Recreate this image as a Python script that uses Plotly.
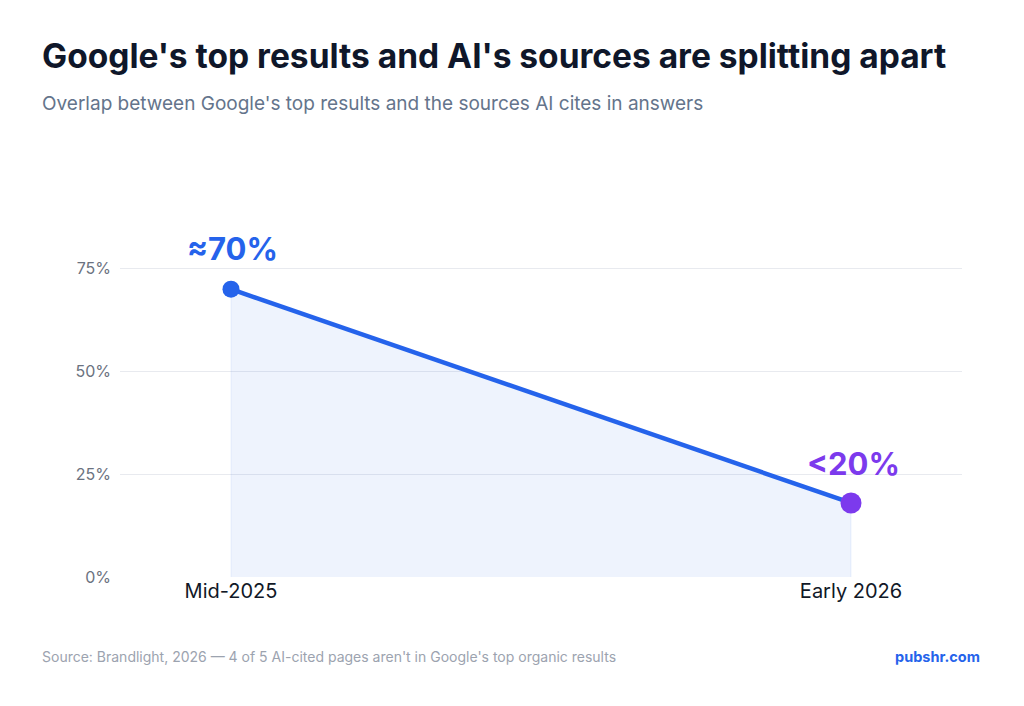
import plotly.graph_objects as go

periods = ["Mid-2025", "Early 2026"]
overlap = [70, 18]
labels = ["≈70%", "<20%"]
tick_vals = [0, 25, 50, 75]
tick_text = ["0%", "25%", "50%", "75%"]

BLUE = "#2563eb"
PURPLE = "#7c3aed"
xpos = [0, 1]

fig = go.Figure()
# shaded area
fig.add_trace(go.Scatter(
    x=[xpos[0], xpos[0], xpos[1], xpos[1]],
    y=[0, overlap[0], overlap[1], 0],
    fill="toself", fillcolor="rgba(37,99,235,0.08)",
    line=dict(color="rgba(37,99,235,0.08)", width=1),
    mode="lines", hoverinfo="skip", showlegend=False))
# line
fig.add_trace(go.Scatter(
    x=xpos, y=overlap, mode="lines",
    line=dict(color=BLUE, width=4.5), hoverinfo="skip", showlegend=False))
# markers
fig.add_trace(go.Scatter(
    x=xpos, y=overlap, mode="markers",
    marker=dict(color=[BLUE, PURPLE], size=[17, 21], opacity=1, line=dict(width=0)),
    hoverinfo="skip", showlegend=False))

for xv, yv, lab, col, sh in zip(xpos, overlap, labels, [BLUE, PURPLE], [41, 39]):
    fig.add_annotation(x=xv, y=yv, text="<b>" + lab.replace("<", "&lt;") + "</b>",
                       showarrow=False, yshift=sh, xshift=2,
                       font=dict(family="Inter", size=31, color=col))

W, H = 1024, 706
L, R, T, B = 120, 62, 248, 129
pw, ph = W - L - R, H - T - B

def px(x):
    return (x - L) / pw

def py(y):
    return (H - B - y) / ph

fig.add_annotation(xref="paper", yref="paper", x=px(40), y=py(56), xanchor="left", yanchor="middle",
                   text="<b>Google's top results and AI's sources are splitting apart</b>",
                   showarrow=False, font=dict(family="Inter", size=33.5, color="#0f172a"))
fig.add_annotation(xref="paper", yref="paper", x=px(40), y=py(104), xanchor="left", yanchor="middle",
                   text="Overlap between Google's top results and the sources AI cites in answers",
                   showarrow=False, font=dict(family="Inter", size=19, color="#64748b"))
fig.add_annotation(xref="paper", yref="paper", x=px(40), y=py(656), xanchor="left", yanchor="middle",
                   text="Source: Brandlight, 2026 — 4 of 5 AI-cited pages aren't in Google's top organic results",
                   showarrow=False, font=dict(family="Inter", size=14, color="#9ca3af"))
fig.add_annotation(xref="paper", yref="paper", x=px(982), y=py(656), xanchor="right", yanchor="middle",
                   text="<b>pubshr.com</b>",
                   showarrow=False, font=dict(family="Inter", size=14.5, color=BLUE))

fig.update_layout(
    width=W, height=H,
    margin=dict(l=L, r=R, t=T, b=B),
    paper_bgcolor="white", plot_bgcolor="white",
    xaxis=dict(range=[-0.179, 1.179], tickvals=xpos, ticktext=periods,
               showgrid=False, zeroline=False, showline=False, ticks="",
               tickfont=dict(family="Inter", size=20, color="#111827")),
    yaxis=dict(range=[0, 80], tickvals=tick_vals, ticktext=tick_text,
               showgrid=True, gridcolor="#e8eaef", gridwidth=1, zeroline=False,
               showline=False, ticks="", ticklabelstandoff=8,
               tickfont=dict(family="Inter", size=16, color="#6b7280")),
    hovermode=False,
)

fig.write_html("out.html")
